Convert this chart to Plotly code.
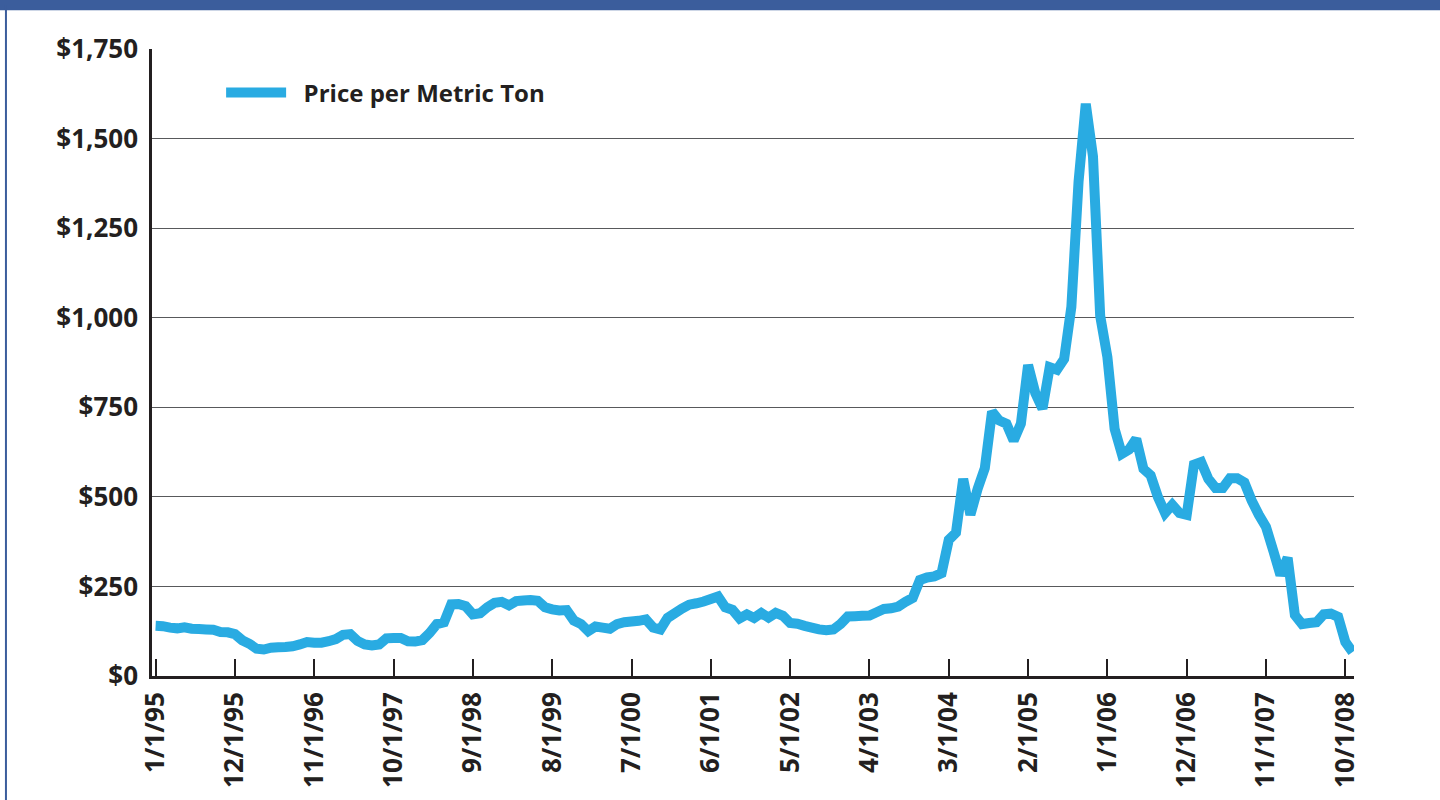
import plotly.graph_objects as go

# Monthly categories 1/1/95 .. 11/1/08
months = [f"{m}/1/{y % 100:02d}" for y in range(1995, 2009) for m in range(1, 13)][:167]

price_per_ton = [
    140, 139, 135, 133, 136, 132, 131, 130, 129, 123, 122, 117,
    100, 90, 76, 74, 79, 80, 81, 83, 88, 95, 93, 93,
    97, 103, 115, 117, 98, 88, 85, 88, 105, 106, 106, 97,
    96, 100, 120, 145, 150, 200, 201, 195, 172, 175, 192, 204,
    207, 197, 209, 211, 212, 210, 192, 186, 183, 184, 155, 145,
    125, 138, 135, 132, 145, 150, 152, 154, 158, 135, 130, 162,
    175, 188, 199, 203, 208, 215, 222, 192, 185, 161, 172, 162,
    176, 163, 176, 168, 148, 146, 140, 135, 130, 128, 130, 145,
    166, 167, 168, 169, 178, 187, 189, 194, 207, 218, 268, 275,
    278, 287, 380, 400, 550, 450, 522, 580, 738, 713, 704, 657,
    704, 868, 790, 746, 862, 855, 885, 1030, 1380, 1597, 1450, 1005,
    890, 690, 620, 632, 662, 578, 560, 500, 455, 478, 455, 450,
    590, 597, 550, 525, 525, 552, 552, 540, 490, 450, 416, 350,
    282, 330, 170, 145, 148, 150, 172, 174, 165, 95, 67,
]

tick_labels = [months[i] for i in range(0, len(months), 11)]
series_name = "Price per Metric Ton"

TEXT = "#231f20"
BLUE = "#29abe2"
FONT = "Open Sans"

fig = go.Figure()
fig.add_trace(go.Scatter(
    x=months, y=price_per_ton, mode="lines",
    name="\u00a0\u00a0" + series_name,
    line=dict(color=BLUE, width=10, simplify=False),
))

fig.update_layout(
    width=1440, height=800,
    margin=dict(l=152, r=86, t=49, b=122),
    paper_bgcolor="white", plot_bgcolor="white",
    font=dict(family=FONT, size=26, color=TEXT, weight="bold"),
    showlegend=True,
    legend=dict(x=0.0575, y=0.93, xanchor="left", yanchor="middle",
                bgcolor="rgba(0,0,0,0)", itemwidth=60,
                font=dict(family=FONT, size=24, color=TEXT, weight="bold")),
    shapes=[
        dict(type="rect", xref="paper", yref="paper",
             x0=-0.2, x1=1.2, y0=1.062, y1=1.2,
             fillcolor="#3b5d9c", line=dict(width=0), layer="above"),
        dict(type="line", xref="paper", yref="paper",
             x0=-0.1215, x1=-0.1215, y0=-0.3, y1=1.07,
             line=dict(color="#3b5d9c", width=2)),
    ],
)

fig.update_xaxes(
    type="category", range=[-0.5, 166.2],
    tickmode="array", tickvals=tick_labels, ticktext=tick_labels,
    tickangle=-90, ticks="inside", ticklen=17, tickwidth=1.5, tickcolor=TEXT,
    showline=True, linewidth=2.5, linecolor=TEXT, showgrid=False,
    ticklabelstandoff=3,
    tickfont=dict(family=FONT, size=26, color=TEXT, weight="bold"),
)
fig.update_yaxes(
    range=[0, 1750], dtick=250, tick0=0,
    tickprefix="$", tickformat=",",
    showgrid=True, gridcolor="#58595b", gridwidth=1,
    zeroline=False, showline=True, linewidth=2.5, linecolor=TEXT,
    ticks="", ticklabelstandoff=6,
    tickfont=dict(family=FONT, size=26, color=TEXT, weight="bold"),
)

fig.write_html("out.html")
